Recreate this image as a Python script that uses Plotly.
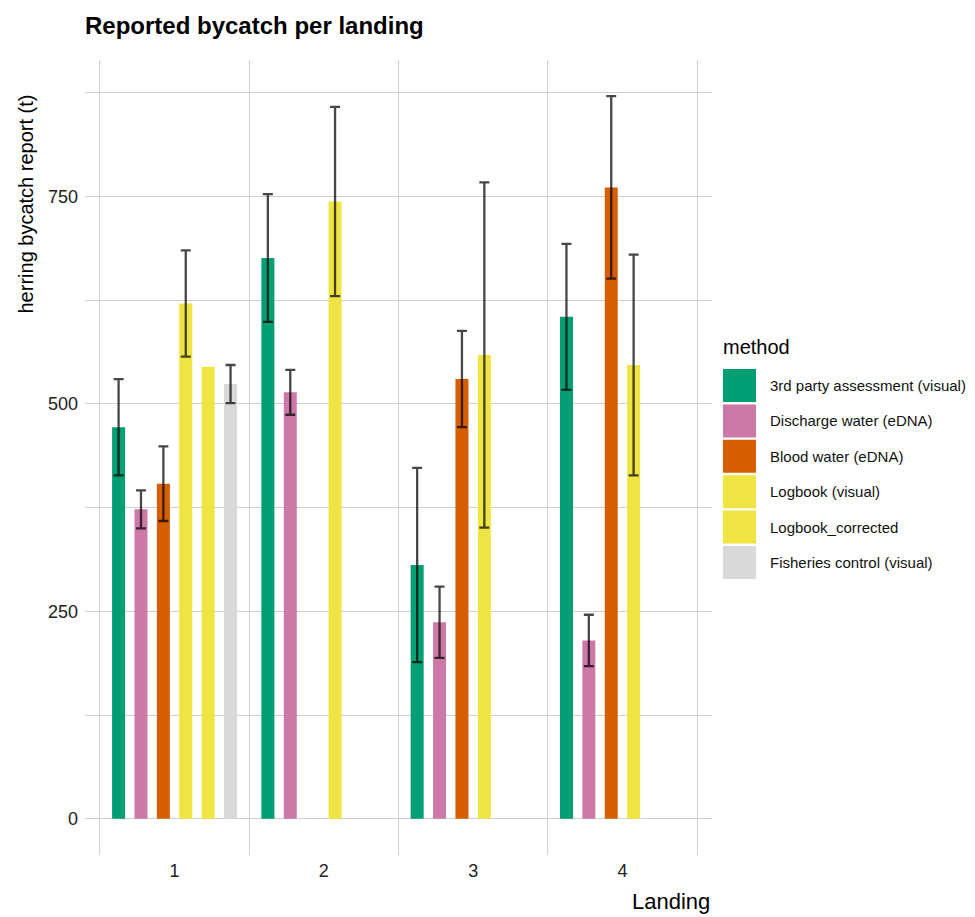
import plotly.graph_objects as go

# ---- data ----
landings = [1, 2, 3, 4]
landing_labels = ["1", "2", "3", "4"]
methods = [
    "3rd party assessment (visual)",
    "Discharge water (eDNA)",
    "Blood water (eDNA)",
    "Logbook (visual)",
    "Logbook_corrected",
    "Fisheries control (visual)",
]
third_party = [472, 676, 306, 605]
third_party_err = [58, 77, 117, 88]
discharge = [373, 514, 237, 215]
discharge_err = [23, 27, 43, 31]
blood = [404, None, 530, 761]
blood_err = [45, None, 58, 110]
logbook = [621, 744, 559, 547]
logbook_err = [64, 114, 208, 133]
logbook_corr = [545, None, None, None]
fisheries = [524, None, None, None]
fisheries_err = [23, None, None, None]

values = [third_party, discharge, blood, logbook, logbook_corr, fisheries]
errors = [third_party_err, discharge_err, blood_err, logbook_err, None, fisheries_err]
colors = ["#009E73", "#CC79A7", "#D55E00", "#F0E442", "#F0E442", "#D9D9D9"]

y_ticks = [0, 250, 500, 750]

FONT = "Liberation Sans, Arial, sans-serif"
GRID = "#cfcfcf"

fig = go.Figure()
for name, vals, errs, col in zip(methods, values, errors, colors):
    kw = {}
    if errs is not None:
        kw["error_y"] = dict(type="data", array=errs, visible=True,
                             color="rgba(0,0,0,0.72)", thickness=2.3, width=5)
    fig.add_trace(go.Bar(x=landings, y=vals, name=name, marker_color=col,
                         marker_line_width=0, showlegend=False, **kw))

# page body margin offset (8px) compensated
O = 8
W, H = 975 - O, 917 - O
L, R, T, B = 85 - O, 712 - O, 60 - O, 855 - O

def px_x(p):
    return (p - O - L) / (R - L)

def px_y(p):
    return (B - (p - O)) / (B - T)

fig.update_layout(
    width=W, height=H,
    margin=dict(l=L, r=W - R, t=T, b=H - B, pad=0),
    paper_bgcolor="white", plot_bgcolor="white",
    font=dict(family=FONT, color="#111111"),
    barmode="group", bargap=0.1, bargroupgap=0.42,
    title=dict(text="<b>Reported bycatch per landing</b>", font=dict(size=24, color="black"),
               x=0, xref="paper", xanchor="left", y=1 - (26 - O) / H, yref="container",
               yanchor="middle"),
    xaxis=dict(range=[0.4, 4.6], tickvals=landings, ticktext=landing_labels,
               showgrid=False, zeroline=False, showline=False, ticks="",
               tickfont=dict(size=18, color="#222222"), ticklabelstandoff=3,
               minor=dict(tick0=0.5, dtick=1, showgrid=True, gridcolor=GRID, gridwidth=1)),
    yaxis=dict(range=[-43.55, 914.55], tickvals=y_ticks, showgrid=True, gridcolor=GRID,
               gridwidth=1, zeroline=False, showline=False, ticks="",
               tickfont=dict(size=18, color="#222222"), ticklabelstandoff=6,
               minor=dict(tick0=125, dtick=250, showgrid=True, gridcolor=GRID, gridwidth=1)),
)

annotations = [
    dict(text="herring bycatch report (t)", textangle=-90, xref="paper", yref="paper",
         x=px_x(25), y=px_y(93), xanchor="center", yanchor="top", showarrow=False,
         font=dict(size=20, color="black")),
    dict(text="Landing", xref="paper", yref="paper", x=1, y=px_y(901),
         xanchor="right", yanchor="middle", showarrow=False, font=dict(size=22, color="black")),
    dict(text="method", xref="paper", yref="paper", x=px_x(721), y=px_y(347),
         xanchor="left", yanchor="middle", showarrow=False, font=dict(size=20, color="black")),
]
shapes = []
for i, (name, col) in enumerate(zip(methods, colors)):
    top = 369 + 35.4 * i
    bot = top + 33
    shapes.append(dict(type="rect", xref="paper", yref="paper",
                       x0=px_x(723), x1=px_x(756), y0=px_y(bot), y1=px_y(top),
                       fillcolor=col, line_width=0, layer="above"))
    annotations.append(dict(text=name, xref="paper", yref="paper", x=px_x(768),
                            y=px_y((top + bot) / 2), xanchor="left", yanchor="middle",
                            showarrow=False, font=dict(size=15, color="#111111")))

fig.update_layout(annotations=annotations, shapes=shapes)
fig.write_html("out.html")
